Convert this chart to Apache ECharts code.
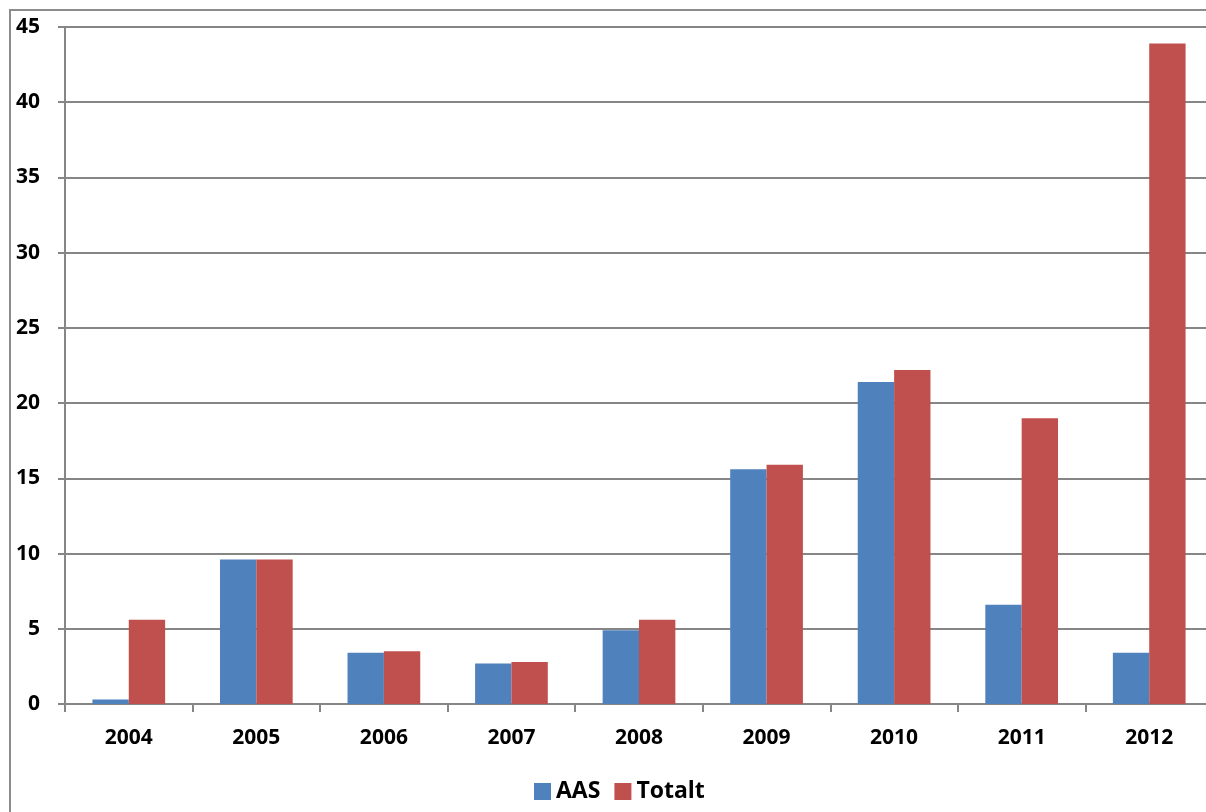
<!DOCTYPE html>
<html>
<head>
<meta charset="utf-8">
<script src="https://cdn.jsdelivr.net/npm/echarts@6/dist/echarts.min.js"></script>
<style>
html,body{margin:0;padding:0;background:#fff;overflow:hidden;}
/* canvas is a little wider than the window so the plot runs off the right edge */
#chart{width:1216px;height:812px;}
</style>
</head>
<body>
<div id="chart"></div>
<script>
// Years on the category axis
const years = ['2004','2005','2006','2007','2008','2009','2010','2011','2012'];
// Series values per year
const aas    = [0.3, 9.6, 3.4, 2.7, 4.9, 15.6, 21.4, 6.6, 3.4];
const totalt = [5.6, 9.6, 3.5, 2.8, 5.6, 15.9, 22.2, 19.0, 43.9];
// Value axis range
const yMin = 0, yMax = 45, yStep = 5;

const FONT = '"Open Sans", "Noto Sans", sans-serif';
const chart = echarts.init(document.getElementById('chart'), null, {renderer: 'canvas'});

chart.setOption({
  animation: false,
  backgroundColor: '#ffffff',
  graphic: [{
    type: 'polyline',
    shape: {points: [[10, 812], [10, 10], [1216, 10]]},
    style: {stroke: '#8c8c8c', lineWidth: 2, fill: null},
    silent: true
  }],
  grid: {left: 65, top: 27, width: 1148, height: 677, containLabel: false, outerBoundsMode: 'none'},
  legend: {
    data: ['AAS', 'Totalt'],
    top: 775,
    left: 529,
    itemWidth: 17,
    itemHeight: 17,
    itemGap: 14,
    icon: 'rect',
    textStyle: {fontFamily: FONT, fontWeight: 'bold', fontSize: 23, color: '#000'}
  },
  xAxis: {
    type: 'category',
    data: years,
    axisLine: {lineStyle: {color: '#868686', width: 2}},
    axisTick: {show: true, length: 8, lineStyle: {color: '#868686', width: 2}},
    axisLabel: {fontFamily: FONT, fontWeight: 'bold', fontSize: 21, color: '#000', margin: 24}
  },
  yAxis: {
    type: 'value',
    min: yMin, max: yMax, interval: yStep,
    axisLine: {show: true, lineStyle: {color: '#868686', width: 2}},
    axisTick: {show: true, length: 7, lineStyle: {color: '#868686', width: 2}},
    splitLine: {lineStyle: {color: '#868686', width: 2}},
    axisLabel: {fontFamily: FONT, fontWeight: 'bold', fontSize: 21, color: '#000', margin: 25}
  },
  series: [
    {
      name: 'AAS', type: 'bar', data: aas,
      barGap: '0%', barCategoryGap: '43%',
      itemStyle: {color: '#4f81bd'}
    },
    {
      name: 'Totalt', type: 'bar', data: totalt,
      barGap: '0%', barCategoryGap: '43%',
      itemStyle: {color: '#c0504d'}
    }
  ]
});
</script>
</body>
</html>
